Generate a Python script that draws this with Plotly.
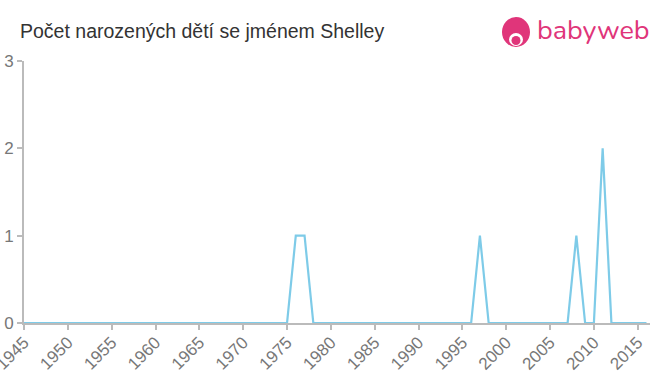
import plotly.graph_objects as go

years = list(range(1945, 2017))
counts = [0, 0, 0, 0, 0, 0, 0, 0, 0, 0,   # 1945-1954
          0, 0, 0, 0, 0, 0, 0, 0, 0, 0,   # 1955-1964
          0, 0, 0, 0, 0, 0, 0, 0, 0, 0,   # 1965-1974
          0, 1, 1, 0, 0, 0, 0, 0, 0, 0,   # 1975-1984
          0, 0, 0, 0, 0, 0, 0, 0, 0, 0,   # 1985-1994
          0, 0, 1, 0, 0, 0, 0, 0, 0, 0,   # 1995-2004
          0, 0, 0, 1, 0, 0, 2, 0, 0, 0,   # 2005-2014
          0, 0]                           # 2015-2016
x_ticks = list(range(1945, 2020, 5))
y_ticks = [0, 1, 2, 3]
title = "Počet narozených dětí se jménem Shelley"

fig = go.Figure()
fig.add_trace(go.Scatter(x=years, y=counts, mode="lines",
                         line=dict(color="#7ecbe8", width=2.2), hoverinfo="x+y"))

fig.update_layout(
    width=660, height=375,
    margin=dict(l=24, r=10, t=61, b=52, autoexpand=False),
    paper_bgcolor="white", plot_bgcolor="white",
    showlegend=False,
    font=dict(family="Liberation Sans", color="#777"),
    title=dict(text=title, x=20/660, xanchor="left", y=1-31/375, yanchor="middle",
               font=dict(size=19.5, color="#333", family="Liberation Sans")),
    xaxis=dict(range=[1945, 2016.4], tickvals=x_ticks, ticktext=[str(v) for v in x_ticks],
               tickangle=-45, ticks="outside", ticklen=5, tickcolor="#bbb", tickwidth=2,
               showline=True, linecolor="#bbb", linewidth=2, showgrid=False, zeroline=False,
               automargin=False, ticklabeloverflow="allow", ticklabelstandoff=-4,
               tickfont=dict(size=17, color="#777")),
    yaxis=dict(range=[0, 3], tickvals=y_ticks, ticks="outside", ticklen=5, tickcolor="#bbb",
               tickwidth=2, showline=True, linecolor="#bbb", linewidth=2, showgrid=False,
               zeroline=False, automargin=False, ticklabeloverflow="allow",
               tickfont=dict(size=17, color="#777")),
)

# babyweb logo
pink = "#e0357a"
fig.add_shape(type="circle", xref="paper", yref="paper",
              x0=(502-24)/626, x1=(530-24)/626, y0=(323-47)/262, y1=(323-17)/262,
              fillcolor=pink, line=dict(width=0), layer="above")
fig.add_shape(type="circle", xref="paper", yref="paper",
              x0=(509-24)/626, x1=(523-24)/626, y0=(323-46)/262, y1=(323-33)/262,
              fillcolor="white", line=dict(width=0), layer="above")
fig.add_shape(type="circle", xref="paper", yref="paper",
              x0=(511.5-24)/626, x1=(520.5-24)/626, y0=(323-45)/262, y1=(323-36)/262,
              fillcolor=pink, line=dict(width=0), layer="above")
fig.add_annotation(text="babyweb", xref="paper", yref="paper",
                   x=(535-24)/626, y=(323-31)/262, xanchor="left", yanchor="middle",
                   showarrow=False, font=dict(size=27, color=pink,
                                              family="Nunito, Lato, Liberation Sans, sans-serif"))

fig.write_html("out.html")
